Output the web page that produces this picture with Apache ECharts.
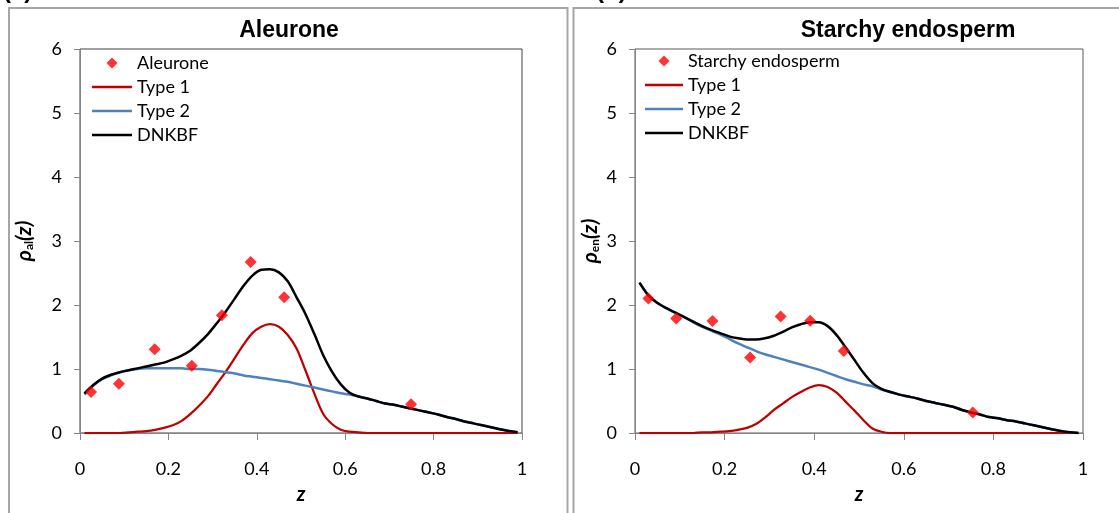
<!DOCTYPE html>
<html><head><meta charset="utf-8">
<script src="https://cdn.jsdelivr.net/npm/echarts@6/dist/echarts.min.js"></script>
<style>html,body{margin:0;padding:0;background:#fff}#c{width:1119px;height:513px}</style>
</head><body><div id="c"></div>
<script>
// common z grid for the model curves
const zGrid = [0.01,0.03,0.05,0.07,0.09,0.11,0.13,0.15,0.17,0.19,0.21,0.23,0.25,0.27,0.29,0.31,0.33,0.35,0.37,0.39,0.41,0.43,0.45,0.47,0.49,0.51,0.53,0.55,0.57,0.59,0.61,0.63,0.65,0.67,0.69,0.71,0.73,0.75,0.77,0.79,0.81,0.83,0.85,0.87,0.89,0.91,0.93,0.95,0.97,0.99];

// (a) Aleurone
const alType1 = [0,0,0,0,0,0.01,0.02,0.03,0.05,0.08,0.12,0.19,0.30,0.43,0.58,0.77,0.96,1.17,1.38,1.56,1.66,1.70,1.66,1.53,1.32,0.98,0.62,0.30,0.14,0.05,0.02,0.01,0,0,0,0,0,0,0,0,0,0,0,0,0,0,0,0,0,0];
const alType2 = [0.60,0.74,0.84,0.90,0.95,0.98,1.00,1.01,1.01,1.01,1.01,1.01,1.00,1.00,0.99,0.97,0.95,0.93,0.90,0.88,0.86,0.84,0.82,0.80,0.77,0.74,0.71,0.68,0.65,0.62,0.60,0.57,0.54,0.50,0.46,0.44,0.41,0.38,0.35,0.32,0.29,0.25,0.22,0.18,0.15,0.12,0.09,0.06,0.03,0.01];
const alDNKBF = [0.62,0.75,0.85,0.91,0.95,0.98,1.01,1.04,1.07,1.10,1.15,1.21,1.29,1.41,1.55,1.72,1.90,2.10,2.30,2.46,2.55,2.56,2.51,2.37,2.12,1.86,1.55,1.22,0.96,0.76,0.63,0.57,0.54,0.50,0.46,0.44,0.41,0.38,0.35,0.32,0.29,0.25,0.22,0.18,0.15,0.12,0.09,0.06,0.03,0.01];
const alPointsZ = [0.025,0.088,0.169,0.253,0.321,0.386,0.462,0.749];
const alPointsV = [0.64,0.77,1.31,1.05,1.84,2.67,2.12,0.45];

// (b) Starchy endosperm
const enType1 = [0,0,0,0,0,0,0,0.01,0.01,0.02,0.03,0.05,0.08,0.14,0.24,0.36,0.46,0.56,0.64,0.71,0.75,0.72,0.63,0.49,0.35,0.20,0.07,0.02,0,0,0,0,0,0,0,0,0,0,0,0,0,0,0,0,0,0,0,0,0,0];
const enType2 = [2.35,2.15,2.03,1.95,1.88,1.81,1.73,1.66,1.60,1.54,1.47,1.40,1.34,1.28,1.23,1.19,1.15,1.11,1.07,1.03,0.99,0.94,0.89,0.84,0.80,0.76,0.73,0.68,0.64,0.60,0.57,0.54,0.50,0.47,0.44,0.41,0.36,0.32,0.29,0.25,0.23,0.20,0.18,0.15,0.12,0.09,0.06,0.03,0.01,0.00];
const enDNKBF = [2.35,2.15,2.03,1.95,1.88,1.81,1.74,1.67,1.61,1.56,1.51,1.48,1.46,1.46,1.48,1.52,1.58,1.65,1.70,1.73,1.73,1.67,1.53,1.34,1.14,0.94,0.78,0.69,0.64,0.60,0.57,0.54,0.50,0.47,0.44,0.41,0.36,0.32,0.29,0.25,0.23,0.20,0.18,0.15,0.12,0.09,0.06,0.03,0.01,0.00];
const enPointsZ = [0.030,0.092,0.173,0.257,0.325,0.391,0.466,0.754];
const enPointsV = [2.10,1.79,1.75,1.18,1.82,1.755,1.28,0.32];

const xTicks = ['0','0.2','0.4','0.6','0.8','1'];
const yTicks = ['0','1','2','3','4','5','6'];

const zip = (a, b) => a.map((v, i) => [v, b[i]]);
const FONT = 'Lato, "Open Sans", sans-serif';
const DIAMOND = 'path://M6,0L12,6L6,12L0,6Z';

function xAxis(gi) {
  return {
    type: 'value', gridIndex: gi, min: 0, max: 1, interval: 0.2,
    name: 'z', nameLocation: 'middle', nameGap: 52,
    nameTextStyle: {fontFamily: FONT, fontSize: 20, fontWeight: 'bold', fontStyle: 'italic', color: '#000'},
    axisLine: {show: true, lineStyle: {color: '#868686', width: 1}},
    axisTick: {show: true, length: 7, lineStyle: {color: '#868686'}},
    axisLabel: {margin: 27, fontFamily: FONT, fontSize: 18, color: '#000',
      formatter: v => xTicks[Math.round(v / 0.2)]},
    splitLine: {show: false}
  };
}
function yAxis(gi, sub, gap) {
  return {
    type: 'value', gridIndex: gi, min: 0, max: 6, interval: 1,
    name: '{a|ρ}{b|' + sub + '}{a|(z)}', nameLocation: 'middle', nameGap: gap, nameRotate: 90,
    nameTextStyle: {
      rich: {
        a: {fontFamily: FONT, fontSize: 21, fontWeight: 'bold', fontStyle: 'italic', color: '#000', lineHeight: 22, verticalAlign: 'bottom'},
        b: {fontFamily: FONT, fontSize: 12, fontWeight: 'bold', color: '#000', lineHeight: 14, verticalAlign: 'bottom'}
      }
    },
    axisLine: {show: true, lineStyle: {color: '#868686', width: 1}},
    axisTick: {show: true, length: 6, lineStyle: {color: '#868686'}},
    axisLabel: {margin: 18, fontFamily: FONT, fontSize: 18, color: '#000',
      formatter: v => yTicks[Math.round(v)]},
    splitLine: {show: false}
  };
}
function lineSeries(name, gi, ys, color, width, z) {
  return {
    type: 'line', name: name, xAxisIndex: gi, yAxisIndex: gi,
    data: zip(zGrid, ys), symbol: 'none', showSymbol: false, smooth: 0.3,
    lineStyle: {color: color, width: width}, itemStyle: {color: color}, z: z
  };
}
function scatterSeries(name, gi, zs, vs) {
  return {
    type: 'scatter', name: name, xAxisIndex: gi, yAxisIndex: gi,
    data: zip(zs, vs), symbol: 'diamond', symbolSize: 12,
    itemStyle: {color: '#ff0000'}, z: 6
  };
}
function legend(left, top, w, first) {
  const bar = 'path://M0,0H' + w + 'V2.4H0Z';
  return {
    orient: 'vertical', left: left, top: top, padding: 0,
    itemWidth: w, itemHeight: 11, itemGap: 6,
    textStyle: {fontFamily: FONT, fontSize: 18, color: '#000', lineHeight: 11},
    data: [{name: first, icon: DIAMOND}, {name: 'Type 1', icon: bar}, {name: 'Type 2', icon: bar}, {name: 'DNKBF', icon: bar}],
    selectedMode: false
  };
}

const chart = echarts.init(document.getElementById('c'), null, {renderer: 'canvas'});
const red = '#c00000', blue = '#4f81bd', black = '#000000';

chart.setOption({
  animation: false,
  backgroundColor: '#ffffff',
  grid: [
    {left: 80, right: 1119 - 522, top: 49, bottom: 513 - 433, show: true, borderColor: '#404040', borderWidth: 1, backgroundColor: 'transparent'},
    {left: 635, right: 1119 - 1083, top: 49, bottom: 513 - 433, show: true, borderColor: '#595959', borderWidth: 1, backgroundColor: 'transparent'}
  ],
  xAxis: [xAxis(0), xAxis(1)],
  yAxis: [yAxis(0, 'al', 45), yAxis(1, 'en', 34)],
  legend: [legend(92, 54, 40, 'Aleurone'), legend(645, 52, 38, 'Starchy endosperm')],
  series: [
    scatterSeries('Aleurone', 0, alPointsZ, alPointsV),
    lineSeries('Type 1', 0, alType1, red, 2.25, 3),
    lineSeries('Type 2', 0, alType2, blue, 2.5, 3),
    lineSeries('DNKBF', 0, alDNKBF, black, 2.5, 4),
    scatterSeries('Starchy endosperm', 1, enPointsZ, enPointsV),
    lineSeries('Type 1', 1, enType1, red, 2.25, 3),
    lineSeries('Type 2', 1, enType2, blue, 2.5, 3),
    lineSeries('DNKBF', 1, enDNKBF, black, 2.5, 4)
  ],
  graphic: [
    {type: 'rect', shape: {x: 9, y: 8, width: 558.5, height: 540}, style: {fill: 'none', stroke: '#a6a6a6', lineWidth: 2}, silent: true, z: -1},
    {type: 'rect', shape: {x: 573.5, y: 8, width: 560, height: 540}, style: {fill: 'none', stroke: '#a6a6a6', lineWidth: 2}, silent: true, z: -1},
    {type: 'text', x: 3, y: -9, style: {text: '(a)', font: 'bold 24px "Liberation Sans", Arial, sans-serif', fill: '#000', verticalAlign: 'middle', align: 'left'}, silent: true},
    {type: 'text', x: 596, y: -9, style: {text: '(b)', font: 'bold 24px "Liberation Sans", Arial, sans-serif', fill: '#000', verticalAlign: 'middle', align: 'left'}, silent: true},
    {type: 'text', x: 289, y: 31, style: {text: 'Aleurone', font: 'bold 23px "Liberation Sans", Arial, sans-serif', fill: '#000', verticalAlign: 'middle', align: 'center'}, silent: true},
    {type: 'text', x: 908, y: 31, style: {text: 'Starchy endosperm', font: 'bold 23px "Liberation Sans", Arial, sans-serif', fill: '#000', verticalAlign: 'middle', align: 'center'}, silent: true}
  ]
});
</script>
</body></html>
